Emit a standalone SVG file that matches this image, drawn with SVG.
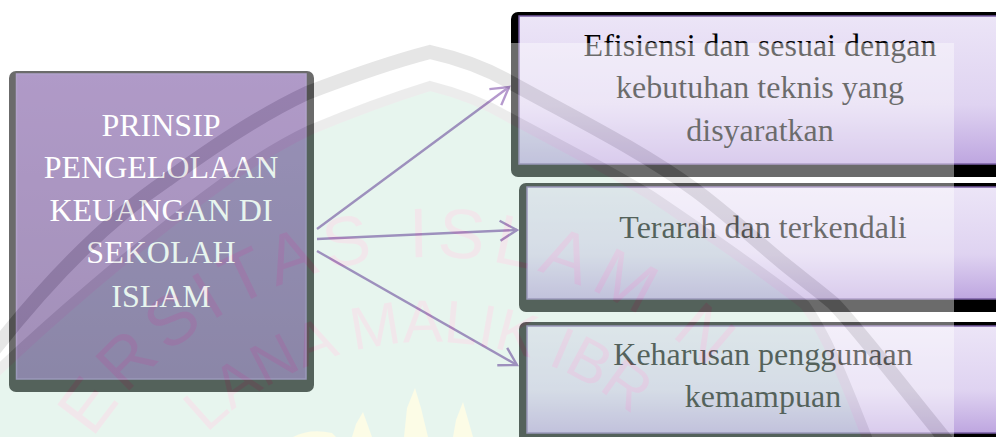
<svg xmlns="http://www.w3.org/2000/svg" width="996" height="437" viewBox="0 0 996 437">
<style>
.shadow{fill:#000}
.lbl{font-family:"Liberation Serif","Times New Roman",serif;font-size:32px;text-anchor:middle;fill:#000}
.main{fill:#fff}
.panel{fill:url(#lilac);stroke:#7a5fa5;stroke-width:1.5}
.conn{fill:none;stroke:#7f50aa;stroke-width:2.4;marker-end:url(#open)}
.wm{font-family:"Liberation Sans",Arial,sans-serif;fill:#e0c8d0}
</style>
<defs>
<linearGradient id="lilac" x1="0" y1="0" x2="0" y2="1"><stop offset="0" stop-color="#ece5f7"/><stop offset=".6" stop-color="#dfd3f1"/><stop offset="1" stop-color="#bea6e0"/></linearGradient>
<linearGradient id="purple" x1="0" y1="0" x2="0" y2="1"><stop offset="0" stop-color="#7751a0"/><stop offset="1" stop-color="#5f3f85"/></linearGradient>
<marker id="open" markerUnits="userSpaceOnUse" markerWidth="24" markerHeight="26" refX="20" refY="12" orient="auto" overflow="visible"><path d="M3 2 L20 12 L3 22" fill="none" stroke="#7f50aa" stroke-width="2.4"/></marker>
<path id="arcOuter" d="M27 660 A403 403 0 0 1 833 660"/>
<path id="arcInner" d="M112 660 A318 318 0 0 1 748 660"/>
<clipPath id="ov"><rect x="0" y="43" width="954" height="394"/></clipPath>
</defs>
<rect width="996" height="437" fill="#fff"/>
<g id="node-main">
<rect class="shadow" x="9" y="71" width="305" height="321" rx="7"/>
<rect x="16.500" y="74" width="289.500" height="305" fill="url(#purple)" stroke="#7a5fa5" stroke-width="1.5"/>
<text class="lbl main" x="161" y="136">PRINSIP</text>
<text class="lbl main" x="161" y="178">PENGELOLAAN</text>
<text class="lbl main" x="161" y="221">KEUANGAN DI</text>
<text class="lbl main" x="161" y="263">SEKOLAH</text>
<text class="lbl main" x="161" y="307">ISLAM</text>
</g>
<g id="node-efisiensi">
<rect class="shadow" x="511" y="12" width="500" height="165" rx="7"/>
<rect class="panel" x="519" y="16" width="490" height="148"/>
<text class="lbl" x="760" y="56">Efisiensi dan sesuai dengan</text>
<text class="lbl" x="760" y="98">kebutuhan teknis yang</text>
<text class="lbl" x="760" y="141">disyaratkan</text>
</g>
<g id="node-terarah">
<rect class="shadow" x="519" y="183" width="492" height="129" rx="7"/>
<rect class="panel" x="527" y="187" width="482" height="112"/>
<text class="lbl" x="763" y="238">Terarah dan terkendali</text>
</g>
<g id="node-keharusan">
<rect class="shadow" x="519" y="322" width="492" height="125" rx="7"/>
<rect class="panel" x="527" y="326" width="482" height="107"/>
<text class="lbl" x="763" y="365">Keharusan penggunaan</text>
<text class="lbl" x="763" y="407">kemampuan</text>
</g>
<g id="connectors">
<path class="conn" d="M317 229 L509 87"/>
<path class="conn" d="M317 239 L517 230"/>
<path class="conn" d="M317 251 L517 365"/>
</g>
<g id="watermark" clip-path="url(#ov)" opacity=".42">
<rect x="0" y="43" width="954" height="394" fill="#fff"/>
<path d="M-14 382 C40 330 130 250 227 180 C255 160 285 142 310 130 Q375 103 430 86 Q475 97 510 118 C560 145 610 170 650 195 C690 222 760 270 805 305 C830 340 850 395 870 445 L-14 445 Z" fill="#c8e9d8" stroke="#d4d4d4" stroke-width="10"/>
<path d="M-14 360 C40 290 100 225 167 180 C215 145 260 115 307 93 Q380 65 430 52 Q475 62 510 82 C575 118 640 150 695 190 C725 212 755 240 783 263 C800 277 818 290 833 303 C855 325 905 390 950 445" fill="none" stroke="#c4c4c4" stroke-width="14"/>
<text class="wm" font-size="70" letter-spacing="8"><textPath href="#arcOuter" startOffset="234">ERSITAS ISLAM N</textPath></text>
<text class="wm" font-size="60"><textPath href="#arcInner" startOffset="252">LANA MALIK IBR</textPath></text>
<path d="M293 437 Q310 428 332 433 L336 437 Z M352 437 L356 424 L363 412 L372 437 Z M404 437 L407 408 L415 388 L421 408 L428 437 Z M453 437 L456 420 L463 402 L473 437 Z" fill="#f8f8c6"/>
</g>
</svg>
